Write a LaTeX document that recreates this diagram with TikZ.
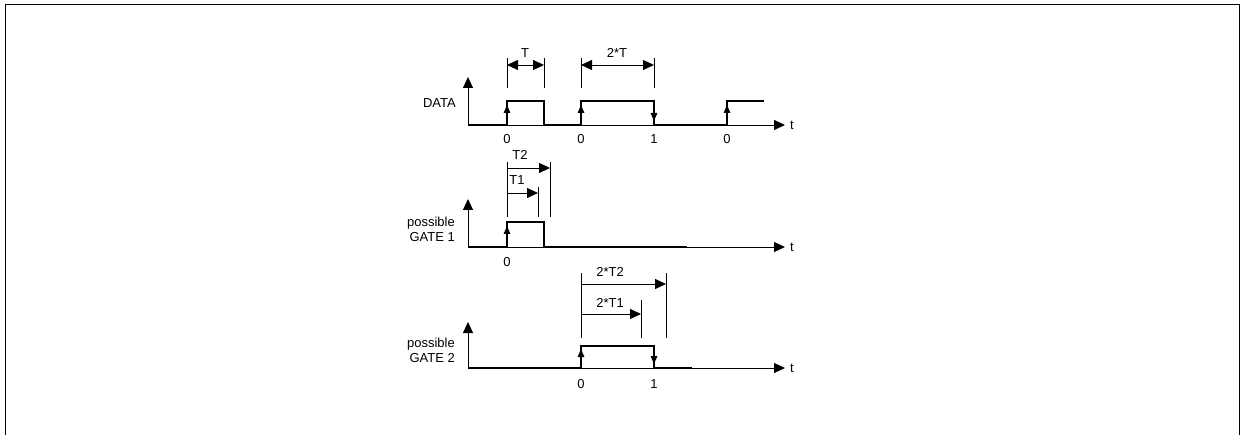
\documentclass[tikz,border=0pt]{standalone}
\usepackage{fontspec}
\setmainfont{Liberation Sans}
\usetikzlibrary{arrows.meta}

\tikzset{
  axis/.style={line width=0.9pt,-{Triangle[length=11pt,width=10pt]}},
  signal/.style={line width=1.4pt},
  upedge/.style={line width=1.4pt,-{Triangle[length=8pt,width=6.5pt]}},
  dimline/.style={line width=0.6pt},
  dimarrow/.style={line width=0.8pt,-{Triangle[length=11pt,width=10pt]}},
  lbl/.style={font=\fontsize{13}{15}\selectfont,inner sep=0pt}
}

\begin{document}
\begin{tikzpicture}[x=1pt,y=-1pt]
  \useasboundingbox (0,0) rectangle (1241,435);
  % frame
  \draw[line width=1pt] (5.5,435) -- (5.5,5) -- (1239,5) -- (1239,435);

  % DATA
  \coordinate (d0) at (468,125);
  \draw[axis] (d0) -- (468,77);
  \draw[axis] (d0) -- (785,125);
  \draw[signal] (d0) -- (507,125) -- (507,101) -- (544,101) -- (544,125) -- (581,125)
    -- (581,101) -- (654,101) -- (654,125) -- (727,125) -- (727,101) -- (764,101);
  \draw[upedge] (507,125) -- (507,105);
  \draw[upedge] (581,125) -- (581,105);
  \draw[upedge] (727,125) -- (727,105);
  \draw[upedge] (654,101) -- (654,121);
  \node[lbl,anchor=east] (datalbl) at (456,103) {DATA};
  \node[lbl,anchor=west] (dt) at (790,125) {t};
  \node[lbl] (da) at (507,139) {0};
  \node[lbl] (db) at (581,139) {0};
  \node[lbl] (dc) at (654,139) {1};
  \node[lbl] (dd) at (727,139) {0};
  % T and 2*T
  \coordinate (ta) at (507,65); \coordinate (tb) at (544,65);
  \coordinate (tc) at (581,65); \coordinate (td) at (654,65);
  \foreach \x in {507,544,581,654} \draw[dimline] (\x,58) -- (\x,88);
  \draw[dimarrow,{Triangle[length=11pt,width=10pt]}-{Triangle[length=11pt,width=10pt]}] (ta) -- (tb);
  \draw[dimarrow,{Triangle[length=11pt,width=10pt]}-{Triangle[length=11pt,width=10pt]}] (tc) -- (td);
  \node[lbl] (tlbl) at (525,53) {T};
  \node[lbl] (ttlbl) at (617,53) {2*T};

  % GATE 1
  \coordinate (g0) at (468,247);
  \draw[axis] (g0) -- (468,199);
  \draw[axis] (g0) -- (785,247);
  \draw[signal] (g0) -- (507,247) -- (507,222) -- (544,222) -- (544,247) -- (687,247);
  \draw[upedge] (507,247) -- (507,226);
  \node[lbl,anchor=east,align=right] (g1lbl) at (455,229) {possible\\GATE 1};
  \node[lbl,anchor=west] (g1t) at (790,247) {t};
  \node[lbl] (g1a) at (507,262) {0};
  % T1 and T2
  \coordinate (t2a) at (507,168); \coordinate (t2b) at (550,168);
  \coordinate (t1a) at (507,193); \coordinate (t1b) at (538,193);
  \draw[dimline] (507,162) -- (507,217);
  \draw[dimline] (550,162) -- (550,217);
  \draw[dimline] (538,187) -- (538,217);
  \draw[dimarrow] (t2a) -- (t2b);
  \draw[dimarrow] (t1a) -- (t1b);
  \node[lbl] (t2lbl) at (520,155) {T2};
  \node[lbl] (t1lbl) at (517,180) {T1};

  % GATE 2
  \coordinate (h0) at (468,368);
  \draw[axis] (h0) -- (468,322);
  \draw[axis] (h0) -- (785,368);
  \draw[signal] (h0) -- (581,368) -- (581,346) -- (654,346) -- (654,368) -- (692,368);
  \draw[upedge] (581,368) -- (581,349);
  \draw[upedge] (654,346) -- (654,364);
  \node[lbl,anchor=east,align=right] (g2lbl) at (455,350) {possible\\GATE 2};
  \node[lbl,anchor=west] (g2t) at (790,368) {t};
  \node[lbl] (g2a) at (581,384) {0};
  \node[lbl] (g2b) at (654,384) {1};
  % 2*T1 and 2*T2
  \coordinate (u2a) at (581,284); \coordinate (u2b) at (666,284);
  \coordinate (u1a) at (581,314); \coordinate (u1b) at (641,314);
  \draw[dimline] (581,273) -- (581,338);
  \draw[dimline] (666,273) -- (666,338);
  \draw[dimline] (641,300) -- (641,338);
  \draw[dimarrow] (u2a) -- (u2b);
  \draw[dimarrow] (u1a) -- (u1b);
  \node[lbl] (u2lbl) at (610,272) {2*T2};
  \node[lbl] (u1lbl) at (610,303) {2*T1};
\end{tikzpicture}
\end{document}
